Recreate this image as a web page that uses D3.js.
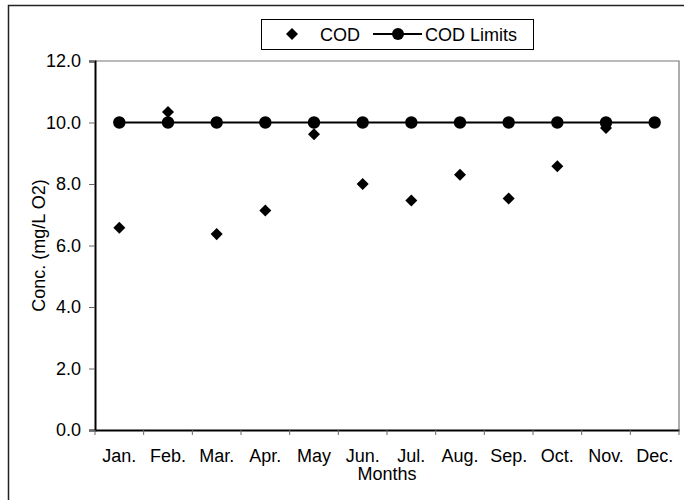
<!DOCTYPE html>
<html lang="en">
<head>
    <meta charset="UTF-8">
    <title>COD Concentration by Month</title>
    <style>
        body { margin: 0; background: #fff; }
        svg text { font-family: "Liberation Sans", Arial, sans-serif; fill: #000; }
    </style>
</head>
<body>
    <div id="chart"></div>
    <script src="https://cdn.jsdelivr.net/npm/d3@7/dist/d3.min.js"></script>
    <script>
        // Data
        const months = ["Jan.", "Feb.", "Mar.", "Apr.", "May", "Jun.", "Jul.", "Aug.", "Sep.", "Oct.", "Nov.", "Dec."];
        const cod = [6.58, 10.34, 6.37, 7.14, 9.62, 8.0, 7.46, 8.30, 7.53, 8.58, 9.82, null];
        const codLimits = [10, 10, 10, 10, 10, 10, 10, 10, 10, 10, 10, 10];
        const yTicks = [0, 2, 4, 6, 8, 10, 12];

        const width = 684, height = 500;
        const plot = { left: 95, right: 679, top: 61, bottom: 430 };

        const svg = d3.select("#chart").append("svg")
          .attr("width", width)
          .attr("height", height);

        // outer chart frame (right and bottom edges fall off the picture)
        svg.append("rect")
          .attr("x", 8.5).attr("y", 5.5)
          .attr("width", 700).attr("height", 600)
          .attr("fill", "none")
          .attr("stroke", "#222")
          .attr("stroke-width", 1.5);

        const x = d3.scaleBand()
          .domain(months)
          .range([plot.left, plot.right]);

        const y = d3.scaleLinear()
          .domain([0, 12])
          .range([plot.bottom, plot.top]);

        // top and right border of the plot area
        svg.append("path")
          .attr("d", `M${plot.left},${plot.top}H${plot.right}V${plot.bottom}`)
          .attr("fill", "none")
          .attr("stroke", "#777")
          .attr("stroke-width", 1.2);

        // y axis
        const yAxis = svg.append("g")
          .attr("transform", `translate(${plot.left},0)`)
          .call(d3.axisLeft(y).tickValues(yTicks).tickFormat(d3.format(".1f")).tickSize(6).tickPadding(8));
        yAxis.select(".domain").attr("stroke", "#000").attr("stroke-width", 2);
        yAxis.selectAll(".tick line").attr("stroke", "#666");
        yAxis.selectAll(".tick text").attr("font-size", 18).attr("font-family", "Liberation Sans, Arial, sans-serif");

        // x axis: ticks sit on the band boundaries
        const xAxis = svg.append("g")
          .attr("transform", `translate(0,${plot.bottom})`)
          .call(d3.axisBottom(x).tickSize(0).tickPadding(19));
        xAxis.select(".domain").attr("stroke", "#000").attr("stroke-width", 2);
        xAxis.selectAll(".tick text").attr("font-size", 18).attr("font-family", "Liberation Sans, Arial, sans-serif");

        const bounds = months.map(m => x(m)).concat([x.range()[1]]);
        xAxis.selectAll(".bound")
          .data(bounds)
          .enter().append("line")
          .attr("class", "bound")
          .attr("x1", d => d).attr("x2", d => d)
          .attr("y1", 0).attr("y2", 5)
          .attr("stroke", "#666");

        // axis titles
        svg.append("text")
          .attr("x", (plot.left + plot.right) / 2)
          .attr("y", 480)
          .attr("text-anchor", "middle")
          .attr("font-size", 18)
          .text("Months");

        svg.append("text")
          .attr("transform", `translate(45,${(plot.top + plot.bottom) / 2}) rotate(-90)`)
          .attr("text-anchor", "middle")
          .attr("font-size", 18)
          .text("Conc. (mg/L O2)");

        const cx = d => x(d) + x.bandwidth() / 2;
        const diamond = d3.symbol().type(d3.symbolDiamond2).size(92);

        // COD points (drawn first, limits sit on top)
        svg.selectAll(".cod")
          .data(months.map((m, i) => ({ m, v: cod[i] })).filter(d => d.v != null))
          .enter().append("path")
          .attr("class", "cod")
          .attr("d", diamond)
          .attr("transform", d => `translate(${cx(d.m)},${y(d.v)})`)
          .attr("fill", "#000");

        // COD limits line + markers
        const limitData = months.map((m, i) => ({ m, v: codLimits[i] }));
        svg.append("path")
          .datum(limitData)
          .attr("fill", "none")
          .attr("stroke", "#000")
          .attr("stroke-width", 2.2)
          .attr("d", d3.line().x(d => cx(d.m)).y(d => y(d.v)));

        svg.selectAll(".lim")
          .data(limitData)
          .enter().append("circle")
          .attr("class", "lim")
          .attr("cx", d => cx(d.m))
          .attr("cy", d => y(d.v))
          .attr("r", 6.2)
          .attr("fill", "#000");

        // legend
        const legend = svg.append("g");
        legend.append("rect")
          .attr("x", 261.5).attr("y", 19.5)
          .attr("width", 272).attr("height", 30)
          .attr("fill", "#fff")
          .attr("stroke", "#000");

        legend.append("path")
          .attr("d", diamond)
          .attr("transform", "translate(292,34)")
          .attr("fill", "#000");
        legend.append("text")
          .attr("x", 320).attr("y", 41)
          .attr("font-size", 18)
          .text("COD");

        legend.append("line")
          .attr("x1", 373).attr("x2", 422)
          .attr("y1", 34).attr("y2", 34)
          .attr("stroke", "#000")
          .attr("stroke-width", 2.2);
        legend.append("circle")
          .attr("cx", 398).attr("cy", 34)
          .attr("r", 6)
          .attr("fill", "#000");
        legend.append("text")
          .attr("x", 425).attr("y", 41)
          .attr("font-size", 18)
          .text("COD Limits");
    </script>
</body>
</html>
